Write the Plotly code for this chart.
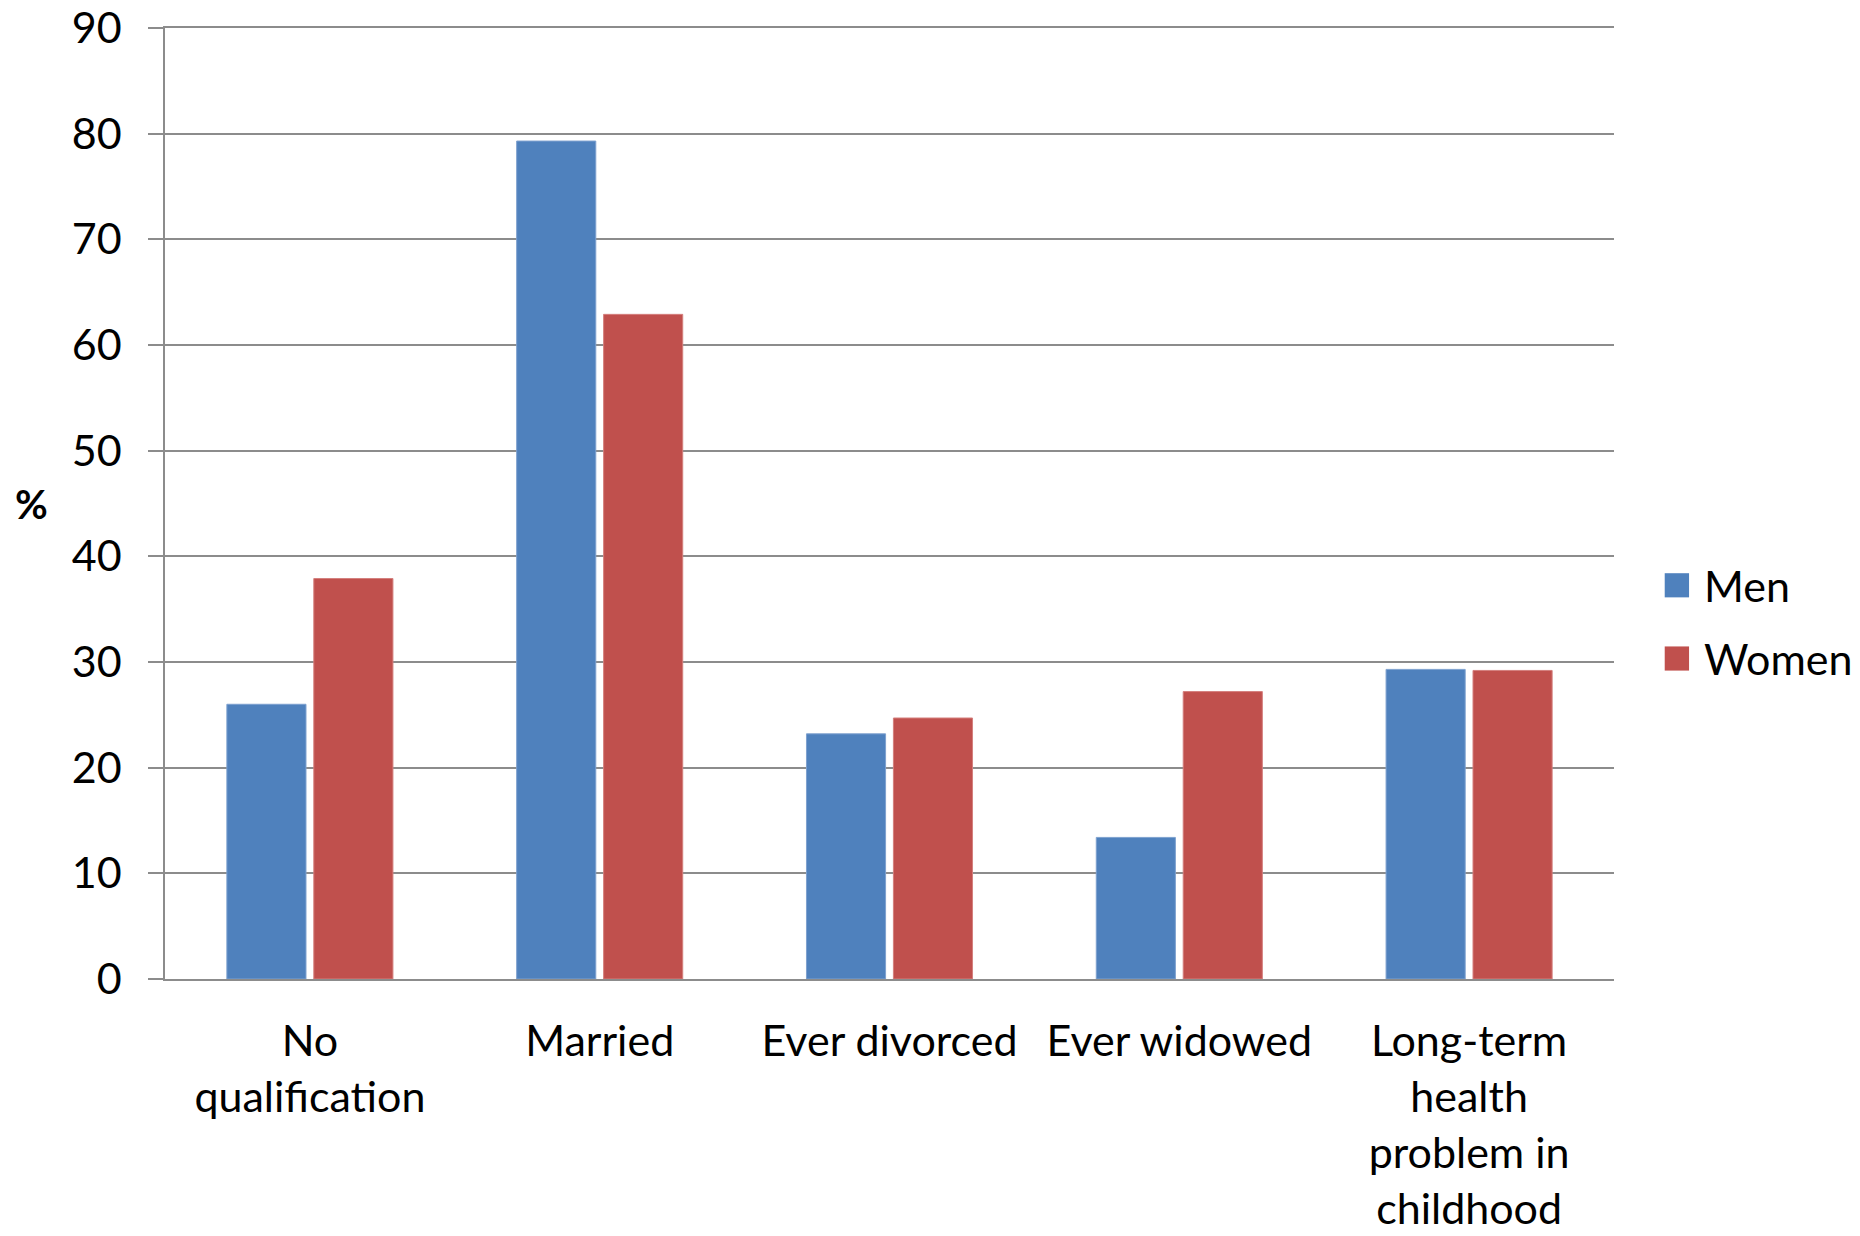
import plotly.graph_objects as go

# Share of men and women with each characteristic (%)
categories = [
    "No<br>qualification",
    "Married",
    "Ever divorced",
    "Ever widowed",
    "Long-term<br>health<br>problem in<br>childhood",
]
men = [26.0, 79.3, 23.2, 13.4, 29.3]
women = [37.9, 62.9, 24.7, 27.2, 29.2]
series_names = ["Men", "Women"]
series_colors = ["#4F81BD", "#C0504D"]
edge_colors = ["#7EA1CF", "#D47F7D"]
y_ticks = [0, 10, 20, 30, 40, 50, 60, 70, 80, 90]

FONT = "Lato, 'Open Sans', sans-serif"
GRID = "#8C8C8C"

fig = go.Figure()
for name, vals, col, edge in zip(series_names, [men, women], series_colors, edge_colors):
    fig.add_trace(go.Bar(
        x=categories, y=vals, name=name,
        marker=dict(color=col, line=dict(color=edge, width=1)),
        showlegend=False,
    ))

# Legend drawn as coloured squares with labels to the right of the plot
legend_y = [0.414, 0.337]
for name, col, ly in zip(series_names, series_colors, legend_y):
    fig.add_shape(type="rect", xref="paper", yref="paper",
                  x0=1.035, x1=1.0518, y0=ly - 0.0127, y1=ly + 0.0127,
                  fillcolor=col, line=dict(width=0))
    fig.add_annotation(text=name, xref="paper", yref="paper",
                       x=1.061, y=ly, xanchor="left", yanchor="middle",
                       showarrow=False, font=dict(family=FONT, size=43, color="black"))

# Horizontal "%" axis label
fig.add_annotation(text="<b>%</b>", xref="paper", yref="paper",
                   x=-0.092, y=0.5, xanchor="center", yanchor="middle",
                   showarrow=False, font=dict(family=FONT, size=40, color="black"))

fig.update_layout(
    width=1860, height=1236,
    margin=dict(l=165, r=246, t=28, b=257),
    paper_bgcolor="white", plot_bgcolor="white",
    barmode="group", bargap=0.40, bargroupgap=0.09,
    font=dict(family=FONT, size=43, color="black"),
)
fig.update_xaxes(
    automargin=False,
    showline=True, mirror=True, linecolor=GRID, linewidth=1.5,
    showgrid=False, ticks="", ticklabelstandoff=24,
    tickfont=dict(family=FONT, size=43, color="black"),
)
fig.update_yaxes(
    automargin=False,
    range=[0, 90], tickvals=y_ticks,
    showgrid=True, gridcolor=GRID, gridwidth=1.5,
    showline=True, linecolor=GRID, linewidth=1.5,
    zeroline=False,
    ticks="outside", ticklen=15, tickcolor=GRID, tickwidth=1.5,
    ticklabelstandoff=18,
    tickfont=dict(family=FONT, size=43, color="black"),
)

fig.write_html("out.html")
